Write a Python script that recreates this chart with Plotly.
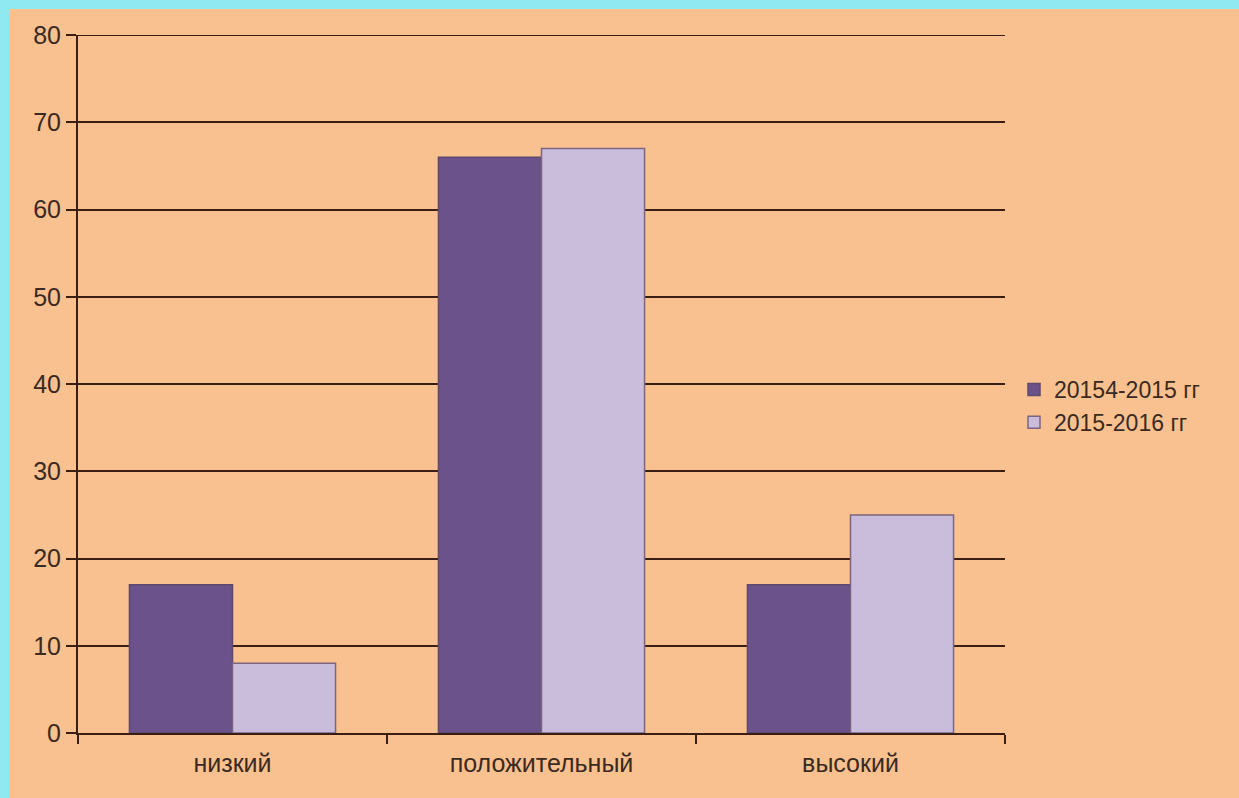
import plotly.graph_objects as go

categories = ["низкий", "положительный", "высокий"]
series1_name = "20154-2015 гг"
series1 = [17, 66, 17]
series2_name = "2015-2016 гг"
series2 = [8, 67, 25]
y_ticks = [0, 10, 20, 30, 40, 50, 60, 70, 80]

W, H = 1239, 798
L, R, T, B = 78, 234, 35, 65
pw, ph = W - L - R, H - T - B

BG = "#F9C18F"
CYAN = "#8EEAF0"
LINE = "#3A1E12"
TXT = "#3A2A22"

fig = go.Figure()
fig.add_trace(go.Bar(x=categories, y=series1, name=series1_name,
                     marker=dict(color="#6C528A", line=dict(color="#5E4A6E", width=1.5))))
fig.add_trace(go.Bar(x=categories, y=series2, name=series2_name,
                     marker=dict(color="#CABCDB", line=dict(color="#7A6682", width=1.5))))

def px_x(p):
    return (p - L) / pw

def px_y(p):
    return 1 - (p - T) / ph

shapes = [
    dict(type="rect", xref="paper", yref="paper", x0=px_x(0), x1=px_x(9), y0=px_y(H), y1=px_y(0),
         fillcolor=CYAN, line=dict(width=0), layer="below"),
    dict(type="rect", xref="paper", yref="paper", x0=px_x(0), x1=px_x(W), y0=px_y(9), y1=px_y(0),
         fillcolor=CYAN, line=dict(width=0), layer="below"),
    dict(type="line", xref="paper", yref="y", x0=0, x1=1, y0=y_ticks[-1], y1=y_ticks[-1],
         line=dict(color=LINE, width=2), layer="below"),
]

fig.update_layout(
    width=W, height=H,
    margin=dict(l=L, r=R, t=T, b=B),
    paper_bgcolor=BG, plot_bgcolor=BG,
    barmode="group", bargap=0.333, bargroupgap=0,
    font=dict(family="Liberation Sans, Arial, sans-serif", size=23, color=TXT),
    shapes=shapes,
    legend=dict(x=px_x(1014), xanchor="left", y=px_y(406), yanchor="middle",
                font=dict(size=23, color=TXT), bgcolor="rgba(0,0,0,0)",
                tracegroupgap=0, itemwidth=30),
    xaxis=dict(type="category", showline=True, linecolor=LINE, linewidth=2,
               ticks="outside", tickson="boundaries", ticklen=9, tickcolor=LINE, tickwidth=2,
               showgrid=False, tickfont=dict(size=25, color=TXT), ticklabelstandoff=7),
    yaxis=dict(range=[0, 80], tickvals=y_ticks, showline=True, linecolor=LINE, linewidth=2,
               ticks="outside", ticklen=10, tickcolor=LINE, tickwidth=2,
               showgrid=True, gridcolor=LINE, gridwidth=2, zeroline=False,
               tickfont=dict(size=25, color=TXT)),
)

fig.write_html("out.html")
